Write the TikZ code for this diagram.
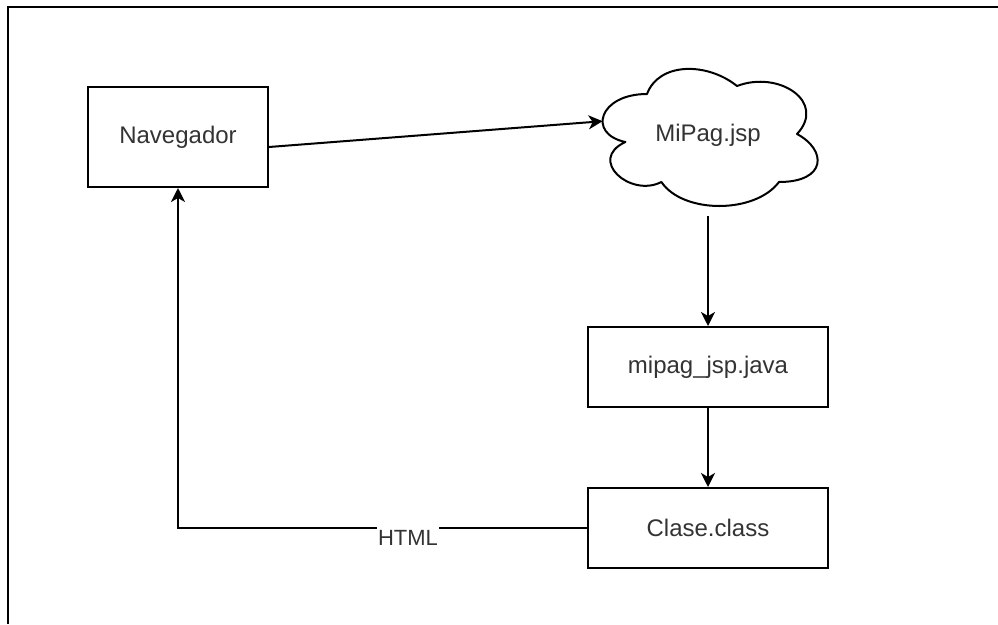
\documentclass[tikz,border=0pt]{standalone}
\usepackage{fontspec}
\setmainfont{Liberation Sans}
\usetikzlibrary{arrows.meta,calc}
\begin{document}
\begin{tikzpicture}[x=1pt,y=-1pt,
  box/.style={draw, line width=2pt, inner sep=0pt, font=\fontsize{24}{28}\selectfont, text=black!80},
  conn/.style={line width=2pt, -{Stealth[length=14pt,width=14pt,inset=4pt]}},
  lbl/.style={font=\fontsize{22}{26}\selectfont, text=black!80, fill=white, inner xsep=1pt, inner ysep=0pt, text height=19pt, text depth=2pt}
]
\useasboundingbox (0,0) rectangle (998,624);
\draw[line width=2pt] (998,7) -- (8,7) -- (8,624);
\node[box, minimum width=180pt, minimum height=100pt] (nav) at (178,137) {Navegador};
\node[box, draw=none, minimum width=240pt, minimum height=160pt] (cloud) at (708,135) {MiPag.jsp};
\begin{scope}[shift={(cloud.north west)}, x=240pt, y=-160pt]
\draw[line width=2pt, line join=round] (0.25,0.25) .. controls (0.05,0.25) and (0,0.5) .. (0.16,0.55)
  .. controls (0,0.66) and (0.18,0.9) .. (0.31,0.8)
  .. controls (0.4,1) and (0.7,1) .. (0.8,0.8)
  .. controls (1,0.8) and (1,0.6) .. (0.875,0.5)
  .. controls (1,0.3) and (0.8,0.1) .. (0.625,0.2)
  .. controls (0.5,0.05) and (0.3,0.05) .. (0.25,0.25) -- cycle;
\coordinate (cloudL) at (0.065,0.42);
\end{scope}
\node[box, minimum width=240pt, minimum height=80pt] (java) at (708,367) {mipag\_jsp.java};
\node[box, minimum width=240pt, minimum height=80pt] (clase) at (708,528) {Clase.class};
\draw[conn] ([yshift=-10pt]nav.east) -- (cloudL);
\draw[conn] (cloud.south) -- (java.north);
\draw[conn] (java.south) -- (clase.north);
\draw[conn] (clase.west) -| (nav.south);
\node[lbl, anchor=base] (html) at (408,545.7) {HTML};
\end{tikzpicture}
\end{document}
